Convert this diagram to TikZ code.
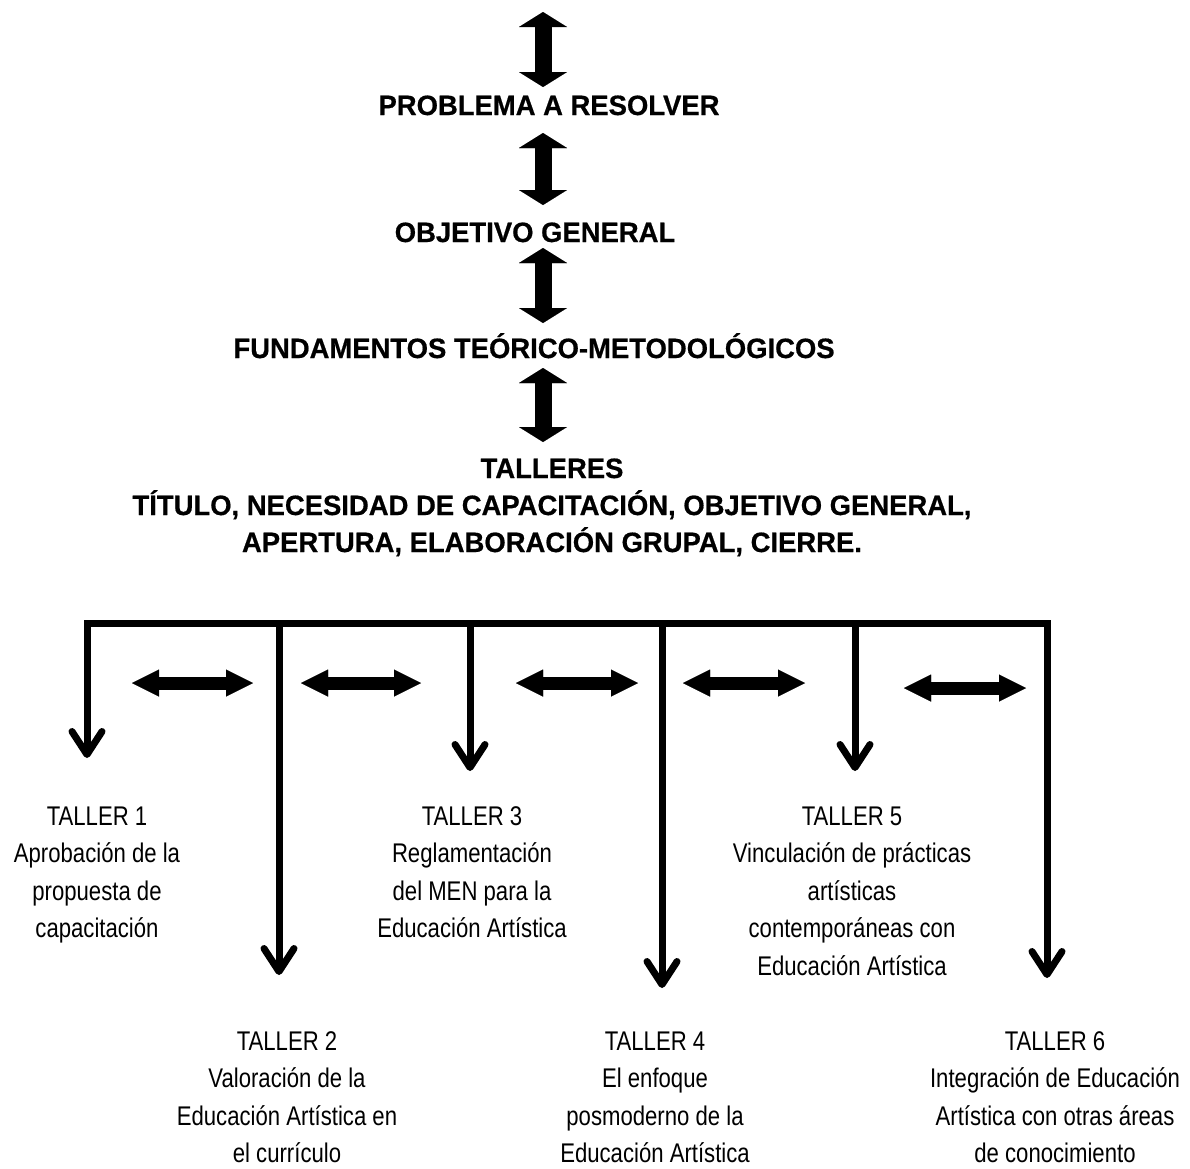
\documentclass[tikz,border=0pt]{standalone}
\usepackage{fontspec}
\setmainfont{Liberation Sans}
\newfontfamily\narrowfont[FakeStretch=0.82]{Liberation Sans}
\newfontfamily\hdrfont[FakeStretch=0.98,FakeBold=0.6]{Liberation Sans Bold}
\usetikzlibrary{arrows.meta}
\begin{document}
\begin{tikzpicture}[x=1pt,y=-1pt,
  hdr/.style={font=\hdrfont\fontsize{28}{37}\selectfont, align=center, anchor=base, inner sep=0pt},
  tallerbox/.style={font=\narrowfont\fontsize{27}{37.5}\selectfont, align=center, anchor=base, inner sep=0pt},
  bigv/.style={line width=17pt, {Triangle[length=15pt,width=48pt,line width=0.01pt]}-{Triangle[length=15pt,width=48pt,line width=0.01pt]}},
  bigh/.style={line width=13pt, {Triangle[length=27pt,width=27pt,line width=0.01pt]}-{Triangle[length=27pt,width=27pt,line width=0.01pt]}},
  busline/.style={line width=7pt, line join=miter},
  barb/.tip={Straight Barb[length=23pt,width=30pt,round]},
  drop/.style={line width=7pt, -barb}]
\useasboundingbox (0,0) rectangle (1190,1168);
\fill[white] (0,0) rectangle (1190,1168);

% header texts (anchor = baseline of last line)
\node[hdr] (prob) at (549,115) {PROBLEMA A RESOLVER};
\node[hdr] (obj) at (535,242) {OBJETIVO GENERAL};
\node[hdr] (fund) at (534,358) {FUNDAMENTOS TEÓRICO-METODOLÓGICOS};
\node[hdr] (tall) at (552,552) {TALLERES\\TÍTULO, NECESIDAD DE CAPACITACIÓN, OBJETIVO GENERAL,\\APERTURA, ELABORACIÓN GRUPAL, CIERRE.};

% vertical double arrows
\coordinate (a1s) at (543,12);  \coordinate (a1e) at (543,87);
\coordinate (a2s) at (543,133); \coordinate (a2e) at (543,205);
\coordinate (a3s) at (543,248); \coordinate (a3e) at (543,323);
\coordinate (a4s) at (543,368); \coordinate (a4e) at (543,442);
\draw[bigv] (a1s) -- (a1e);
\draw[bigv] (a2s) -- (a2e);
\draw[bigv] (a3s) -- (a3e);
\draw[bigv] (a4s) -- (a4e);

% bus
\coordinate (c1) at (87,623);
\coordinate (c6) at (1047,623);
\coordinate (d1) at (87,758);
\coordinate (d6) at (1047,978);
\draw[busline, barb-barb] (d1) -- (c1) -- (c6) -- (d6);

\coordinate (c2) at (279,623); \coordinate (d2) at (279,975);
\coordinate (c3) at (470,623); \coordinate (d3) at (470,771);
\coordinate (c4) at (662,623); \coordinate (d4) at (662,988);
\coordinate (c5) at (855,623); \coordinate (d5) at (855,771);
\draw[drop] (c2) -- (d2);
\draw[drop] (c3) -- (d3);
\draw[drop] (c4) -- (d4);
\draw[drop] (c5) -- (d5);

% horizontal double arrows
\coordinate (h1s) at (132,683); \coordinate (h1e) at (253,683);
\coordinate (h2s) at (301,683); \coordinate (h2e) at (421,683);
\coordinate (h3s) at (516,683); \coordinate (h3e) at (638,683);
\coordinate (h4s) at (683,683); \coordinate (h4e) at (805,683);
\coordinate (h5s) at (904,688); \coordinate (h5e) at (1026,688);
\draw[bigh] (h1s) -- (h1e);
\draw[bigh] (h2s) -- (h2e);
\draw[bigh] (h3s) -- (h3e);
\draw[bigh] (h4s) -- (h4e);
\draw[bigh] (h5s) -- (h5e);

% taller texts (anchor = baseline of last line)
\node[tallerbox] (t1) at (97,937.5) {TALLER 1\\Aprobación de la\\propuesta de\\capacitación};
\node[tallerbox] (t2) at (287,1162.5) {TALLER 2\\Valoración de la\\Educación Artística en\\el currículo};
\node[tallerbox] (t3) at (472,937.5) {TALLER 3\\Reglamentación\\del MEN para la\\Educación Artística};
\node[tallerbox] (t4) at (655,1162.5) {TALLER 4\\El enfoque\\posmoderno de la\\Educación Artística};
\node[tallerbox] (t5) at (852,975) {TALLER 5\\Vinculación de prácticas\\artísticas\\contemporáneas con\\Educación Artística};
\node[tallerbox] (t6) at (1055,1162.5) {TALLER 6\\Integración de Educación\\Artística con otras áreas\\de conocimiento};
\end{tikzpicture}
\end{document}
